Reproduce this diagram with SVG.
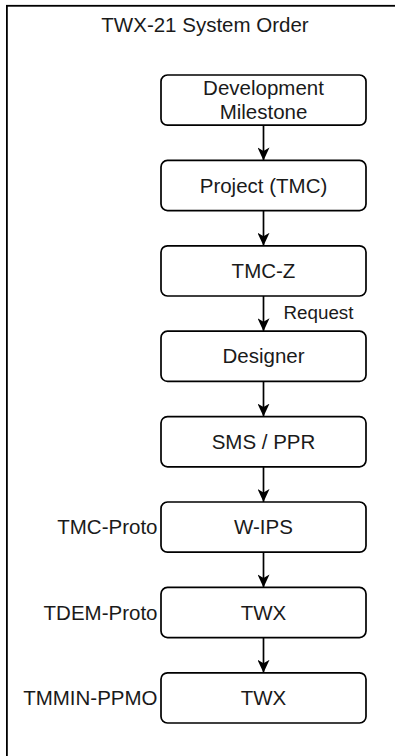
<svg xmlns="http://www.w3.org/2000/svg" width="395" height="756" viewBox="0 0 395 756">
  <style>
    .box { fill: #ffffff; stroke: #000000; stroke-width: 1.7; }
    .t { font-family: "Liberation Sans", Arial, sans-serif; font-size: 20.5px; fill: #1a1a1a; }
    .c { text-anchor: middle; }
    .r { text-anchor: end; }
    .edge { stroke: #000000; stroke-width: 1.7; fill: none; marker-end: url(#arr); }
  </style>
  <defs>
    <marker id="arr" markerUnits="userSpaceOnUse" viewBox="0 0 14 12" refX="13" refY="6" markerWidth="14" markerHeight="12" orient="auto">
      <path d="M0,0 L13,6 L0,12 L3.5,6 Z" fill="#000000"/>
    </marker>
  </defs>
  <rect x="0" y="0" width="395" height="756" fill="#ffffff"/>
  <g id="frame">
    <rect x="6.9" y="5.8" width="400" height="760" fill="none" stroke="#000000" stroke-width="1.8"/>
    <text class="t c" x="205" y="31.5">TWX-21 System Order</text>
  </g>
  <g id="connectors">
    <line class="edge" x1="263.5" y1="125.2" x2="263.5" y2="160.4"/>
    <line class="edge" x1="263.5" y1="210.6" x2="263.5" y2="245.8"/>
    <line class="edge" x1="263.5" y1="296" x2="263.5" y2="331.2"/>
    <line class="edge" x1="263.5" y1="381.4" x2="263.5" y2="416.6"/>
    <line class="edge" x1="263.5" y1="466.8" x2="263.5" y2="502"/>
    <line class="edge" x1="263.5" y1="552.2" x2="263.5" y2="587.4"/>
    <line class="edge" x1="263.5" y1="637.6" x2="263.5" y2="672.8"/>
    <text class="t" x="283.5" y="319.3" style="font-size:18.8px">Request</text>
  </g>
  <g id="n1">
    <rect class="box" x="161" y="75" width="205" height="50.2" rx="6.5"/>
    <text class="t c" x="263.5" y="94.5">Development</text>
    <text class="t c" x="263.5" y="119">Milestone</text>
  </g>
  <g id="n2">
    <rect class="box" x="161" y="160.4" width="205" height="50.2" rx="6.5"/>
    <text class="t c" x="263.5" y="192.5">Project (TMC)</text>
  </g>
  <g id="n3">
    <rect class="box" x="161" y="245.8" width="205" height="50.2" rx="6.5"/>
    <text class="t c" x="263.5" y="277.9">TMC-Z</text>
  </g>
  <g id="n4">
    <rect class="box" x="161" y="331.2" width="205" height="50.2" rx="6.5"/>
    <text class="t c" x="263.5" y="363.3">Designer</text>
  </g>
  <g id="n5">
    <rect class="box" x="161" y="416.6" width="205" height="50.2" rx="6.5"/>
    <text class="t c" x="263.5" y="448.7">SMS / PPR</text>
  </g>
  <g id="n6">
    <rect class="box" x="161" y="502" width="205" height="50.2" rx="6.5"/>
    <text class="t c" x="263.5" y="534.1">W-IPS</text>
    <text class="t r" x="157.5" y="534.1">TMC-Proto</text>
  </g>
  <g id="n7">
    <rect class="box" x="161" y="587.4" width="205" height="50.2" rx="6.5"/>
    <text class="t c" x="263.5" y="619.5">TWX</text>
    <text class="t r" x="157.5" y="619.5">TDEM-Proto</text>
  </g>
  <g id="n8">
    <rect class="box" x="161" y="672.8" width="205" height="50.2" rx="6.5"/>
    <text class="t c" x="263.5" y="704.9">TWX</text>
    <text class="t r" x="157.5" y="704.9">TMMIN-PPMO</text>
  </g>
</svg>
